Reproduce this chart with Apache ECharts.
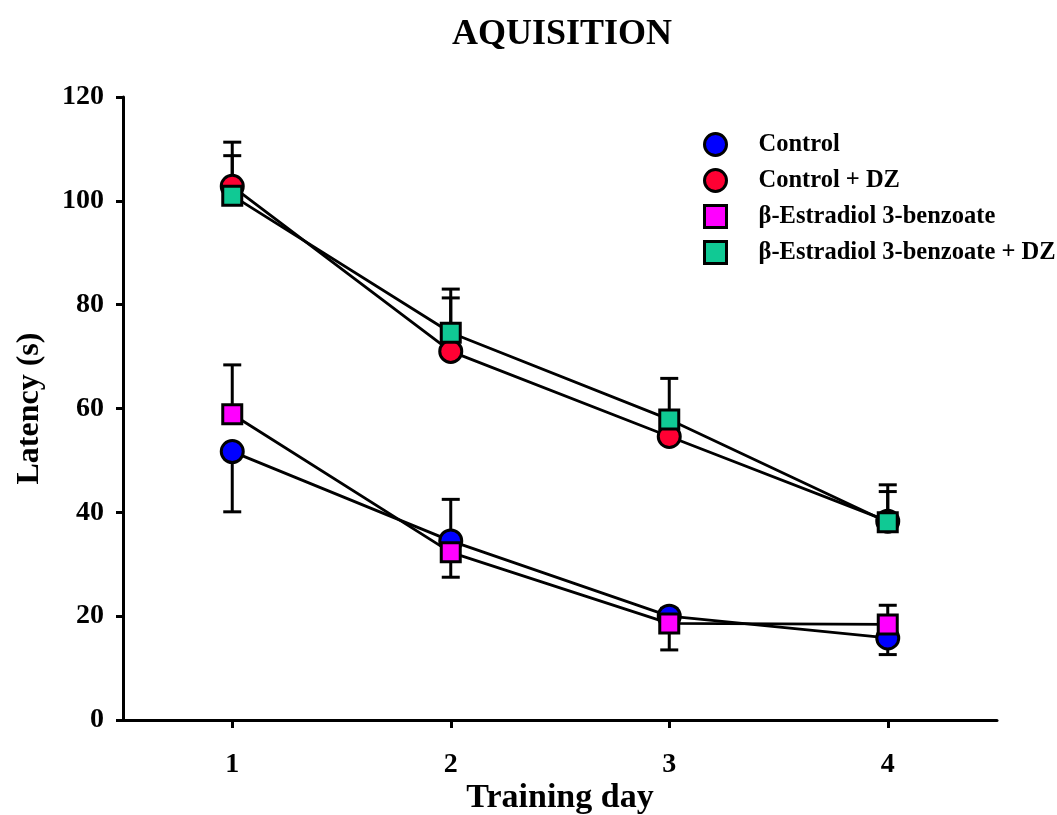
<!DOCTYPE html>
<html>
<head>
<meta charset="utf-8">
<title>AQUISITION</title>
<script src="https://cdn.jsdelivr.net/npm/echarts@6/dist/echarts.min.js"></script>
<style>
  html, body { margin: 0; padding: 0; background: #fff; }
  #chart { width: 1057px; height: 815px; }
</style>
</head>
<body>
<div id="chart"></div>
<script>
// Training days (x categories) and y-axis ticks
const days = ['1', '2', '3', '4'];
const yTicks = { min: 0, max: 120, step: 20 };

// Mean latency per group (s)
const control      = [51.7, 34.5, 20.0, 15.8];
const controlDZ    = [102.8, 71.0, 54.6, 38.3];
const estradiol    = [58.9, 32.3, 18.6, 18.4];
const estradiolDZ  = [101.0, 74.6, 57.9, 38.1];

// SEM per group; negative means the bar is drawn downward
const controlErr     = [-11.6, 8.0, 1.5, -3.2];
const controlDZErr   = [5.9, 10.3, 3.0, 5.7];
const estradiolErr   = [9.5, -4.8, -5.1, 3.7];
const estradiolDZErr = [10.3, 8.4, 7.9, 7.2];

const groupNames = ['Control', 'Control + DZ', '\u03b2-Estradiol 3-benzoate', '\u03b2-Estradiol 3-benzoate + DZ'];
const groupColors = ['#0000ff', '#ff0033', '#ff00ff', '#10c994'];

const FONT = "'Liberation Serif', 'Times New Roman', serif";

const groups = [
  { name: groupNames[0], color: groupColors[0], shape: 'circle', size: 22, mean: control,     err: controlErr },
  { name: groupNames[1], color: groupColors[1], shape: 'circle', size: 22, mean: controlDZ,   err: controlDZErr },
  { name: groupNames[2], color: groupColors[2], shape: 'rect',   size: 19, mean: estradiol,   err: estradiolErr },
  { name: groupNames[3], color: groupColors[3], shape: 'rect',   size: 19, mean: estradiolDZ, err: estradiolDZErr }
];

// One-sided error bar with a horizontal cap
function renderErrorBar(params, api) {
  const idx = api.value(0);
  const start = api.coord([idx, api.value(1)]);
  const end = api.coord([idx, api.value(2)]);
  const half = 9;
  const style = { stroke: '#000', lineWidth: 3 };
  return {
    type: 'group',
    children: [
      { type: 'line', shape: { x1: start[0], y1: start[1], x2: end[0], y2: end[1] }, style: style },
      { type: 'line', shape: { x1: end[0] - half, y1: end[1], x2: end[0] + half, y2: end[1] }, style: style }
    ]
  };
}

const series = [];
groups.forEach(function (g) {
  series.push({
    type: 'custom',
    name: g.name + ' SEM',
    renderItem: renderErrorBar,
    z: 1,
    silent: true,
    encode: { x: 0, y: [1, 2] },
    data: g.mean.map(function (m, i) { return [i, m, m + g.err[i]]; })
  });
});
groups.forEach(function (g, k) {
  series.push({
    type: 'line',
    name: g.name,
    data: g.mean,
    z: 2 + k,
    symbol: g.shape,
    symbolSize: g.size,
    showAllSymbol: true,
    lineStyle: { color: '#000', width: 2.8 },
    itemStyle: { color: g.color, borderColor: '#000', borderWidth: 3 },
    emphasis: { disabled: true },
    animation: false
  });
});

const chart = echarts.init(document.getElementById('chart'), null, { renderer: 'canvas' });
chart.setOption({
  animation: false,
  backgroundColor: '#fff',
  title: {
    text: 'AQUISITION',
    left: 557,
    top: 12,
    textAlign: 'center',
    textStyle: { fontFamily: FONT, fontWeight: 'bold', fontSize: 36, color: '#000' }
  },
  legend: {
    orient: 'vertical',
    left: 698,
    top: 127,
    itemWidth: 22,
    itemHeight: 22,
    itemGap: 11,
    selectedMode: false,
    data: groups.map(function (g) {
      return {
        name: g.name,
        icon: g.shape,
        itemStyle: { color: g.color, borderColor: '#000', borderWidth: 3 }
      };
    }),
    textStyle: { fontFamily: FONT, fontWeight: 'bold', fontSize: 24.5, lineHeight: 22, color: '#000', padding: [0, 0, 0, 27] }
  },
  grid: { left: 123, right: 60, top: 97, bottom: 95, outerBoundsMode: 'none' },
  xAxis: {
    type: 'category',
    data: days,
    boundaryGap: true,
    name: 'Training day',
    nameLocation: 'middle',
    nameGap: 61,
    nameMoveOverlap: false,
    nameTextStyle: { fontFamily: FONT, fontWeight: 'bold', fontSize: 34, color: '#000' },
    axisLine: { show: true, lineStyle: { color: '#000', width: 3 } },
    axisTick: { show: true, alignWithLabel: true, length: 8, lineStyle: { color: '#000', width: 3 } },
    axisLabel: { margin: 31, fontFamily: FONT, fontWeight: 'bold', fontSize: 28, color: '#000' },
    splitLine: { show: false }
  },
  yAxis: {
    type: 'value',
    min: yTicks.min,
    max: yTicks.max,
    interval: yTicks.step,
    name: 'Latency (s)',
    nameLocation: 'middle',
    nameGap: 77,
    nameRotate: 90,
    nameMoveOverlap: false,
    nameTextStyle: { fontFamily: FONT, fontWeight: 'bold', fontSize: 32, color: '#000' },
    axisLine: { show: true, lineStyle: { color: '#000', width: 3 } },
    axisTick: { show: true, length: 7, lineStyle: { color: '#000', width: 3 } },
    axisLabel: { margin: 19, fontFamily: FONT, fontWeight: 'bold', fontSize: 28, color: '#000' },
    splitLine: { show: false }
  },
  series: series
});
</script>
</body>
</html>
